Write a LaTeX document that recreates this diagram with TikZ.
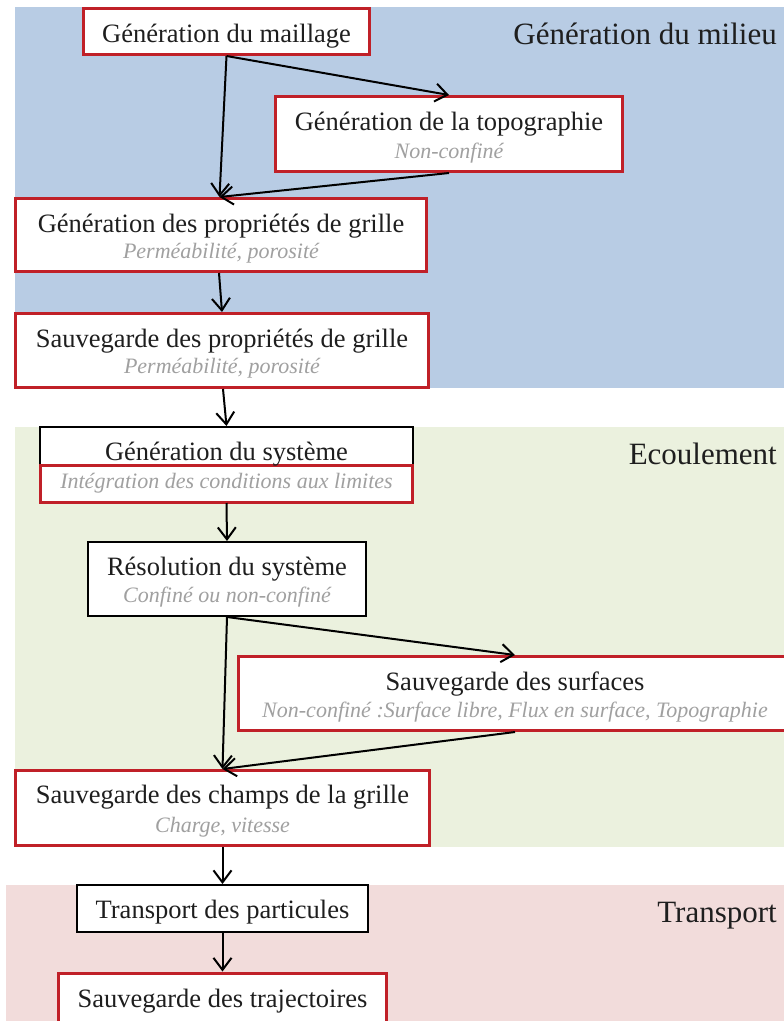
\documentclass[tikz,border=0pt]{standalone}
\usepackage{fontspec}
\setmainfont{Liberation Serif}
\usetikzlibrary{arrows.meta}
\definecolor{bandblue}{RGB}{184,204,228}
\definecolor{bandgreen}{RGB}{235,241,222}
\definecolor{bandpink}{RGB}{242,220,219}
\definecolor{boxred}{RGB}{192,32,40}
\definecolor{ink}{RGB}{30,30,30}
\definecolor{subgray}{RGB}{160,160,160}
\begin{document}
\begin{tikzpicture}[x=1bp,y=-1bp,
  redbox/.style={rectangle, draw=boxred, line width=3bp, fill=white, inner sep=0pt},
  blackbox/.style={rectangle, draw=black, line width=2bp, fill=white, inner sep=0pt},
  title/.style={anchor=base, inner sep=0pt, text=ink, font=\fontsize{26.5bp}{30bp}\selectfont},
  sub/.style={anchor=base, inner sep=0pt, text=subgray, font=\fontsize{22bp}{26bp}\selectfont\itshape},
  bandlabel/.style={anchor=base east, inner sep=0pt, text=ink, font=\fontsize{31bp}{36bp}\selectfont},
  flow/.style={draw=black, line width=2bp, -{Straight Barb[length=12bp,width=18bp]}}
]
\useasboundingbox (0,0) rectangle (784,1021);

% background bands
\fill[bandblue]  (15,7)   rectangle (784,388);
\fill[bandgreen] (15,427) rectangle (784,847);
\fill[bandpink]  (6,885)  rectangle (784,1021);

\node[bandlabel] (lmilieu) at (777,44)  {Génération du milieu};
\node[bandlabel] (lecoul)  at (777,464) {Ecoulement};
\node[bandlabel] (ltransp) at (777,922) {Transport};

% boxes
\node[redbox, minimum width=286bp, minimum height=46bp] (b1) at (226.5,31.5) {};
\node[title] (b1t) at (226.5,42) {Génération du maillage};

\node[redbox, minimum width=347bp, minimum height=75bp] (b2) at (449,134) {};
\node[title] (b2t) at (449,130) {Génération de la topographie};
\node[sub]   (b2s) at (449,158) {Non-confiné};

\node[redbox, minimum width=411bp, minimum height=73bp] (b3) at (221,235) {};
\node[title] (b3t) at (221,232) {Génération des propriétés de grille};
\node[sub]   (b3s) at (221,258) {Perméabilité, porosité};

\node[redbox, minimum width=413bp, minimum height=74bp] (b4) at (222,350.5) {};
\node[title] (b4t) at (222,347) {Sauvegarde des propriétés de grille};
\node[sub]   (b4s) at (222,373) {Perméabilité, porosité};

\node[blackbox, minimum width=372bp, minimum height=75bp] (b5) at (226.5,464.5) {};
\node[redbox, minimum width=372bp, minimum height=37bp] (b5r) at (226.5,483.5) {};
\node[title] (b5t) at (226.5,460) {Génération du système};
\node[sub]   (b5s) at (226.5,488) {Intégration des conditions aux limites};

\node[blackbox, minimum width=278bp, minimum height=74bp] (b6) at (227,579) {};
\node[title] (b6t) at (227,575) {Résolution du système};
\node[sub]   (b6s) at (227,602) {Confiné ou non-confiné};

\node[redbox, minimum width=553bp, minimum height=74bp] (b7) at (515,693.5) {};
\node[title] (b7t) at (515,690) {Sauvegarde des surfaces};
\node[sub]   (b7s) at (515,717) {Non-confiné :Surface libre, Flux en surface, Topographie};

\node[redbox, minimum width=414bp, minimum height=75bp] (b8) at (222.5,808) {};
\node[title] (b8t) at (222.5,803) {Sauvegarde des champs de la grille};
\node[sub]   (b8s) at (222.5,832) {Charge, vitesse};

\node[blackbox, minimum width=291bp, minimum height=47bp] (b9) at (222.5,908.5) {};
\node[title] (b9t) at (222.5,918) {Transport des particules};

\node[redbox, minimum width=328bp, minimum height=57bp] (b10) at (222.5,1001.5) {};
\node[title] (b10t) at (222.5,1007) {Sauvegarde des trajectoires};

% connectors
\draw[flow] (b1.south) -- ([xshift=-1.5bp]b3.north);
\draw[flow] (b1.south) -- (b2.north);
\draw[flow] (b2.south) -- ([xshift=-1.5bp]b3.north);
\draw[flow] ([xshift=-2bp]b3.south) -- (b4.north);
\draw[flow] ([xshift=1bp]b4.south) -- (b5.north);
\draw[flow] (b5.south) -- (b6.north);
\draw[flow] (b6.south) -- (b8.north);
\draw[flow] (b6.south) -- (b7.north);
\draw[flow] (b7.south) -- (b8.north);
\draw[flow] (b8.south) -- (b9.north);
\draw[flow] (b9.south) -- (b10.north);
\end{tikzpicture}
\end{document}
